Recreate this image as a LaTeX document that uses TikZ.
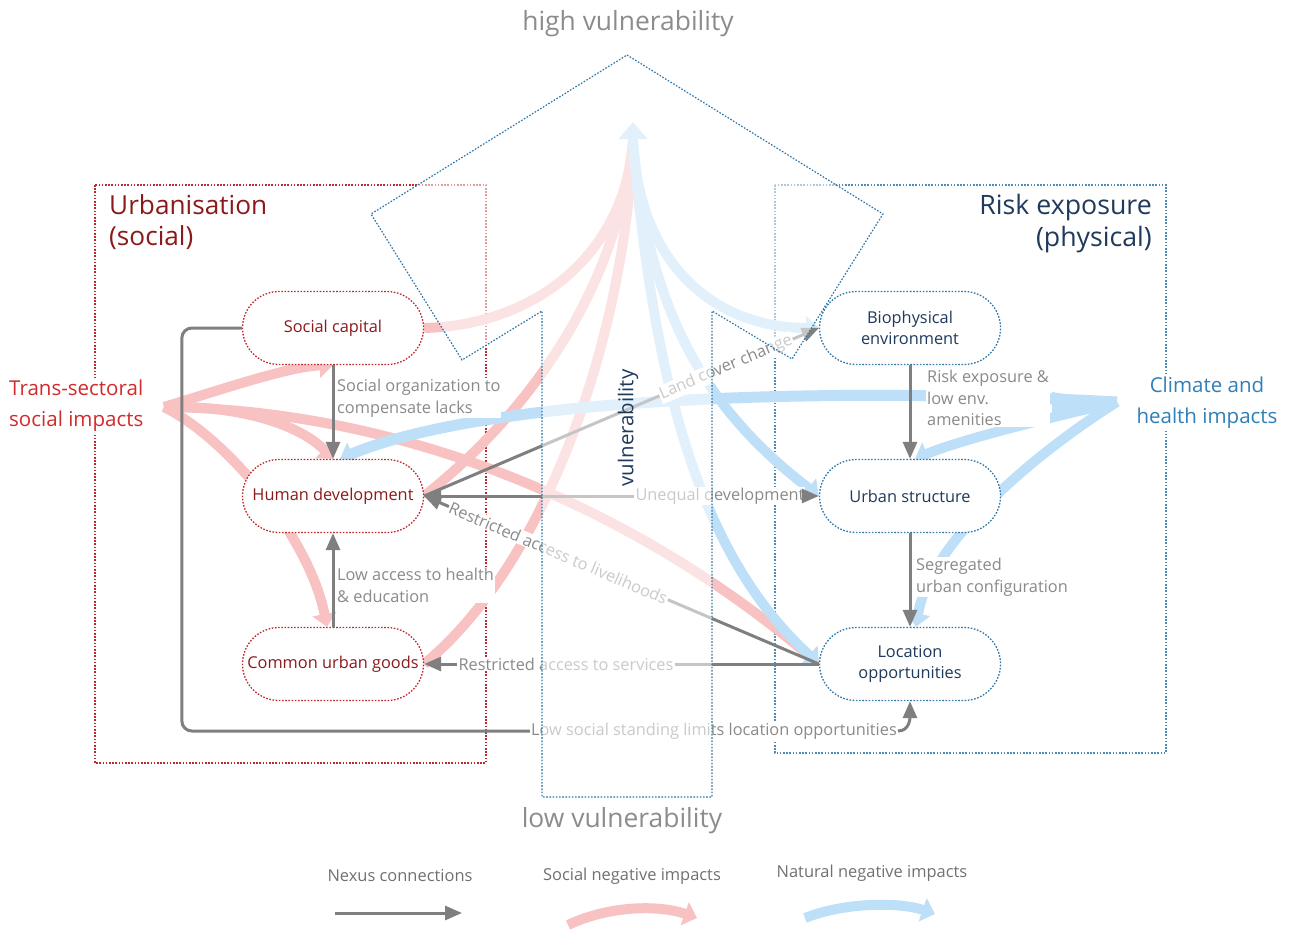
\documentclass[tikz,border=0pt]{standalone}
\usepackage{fontspec}
\setmainfont{Open Sans}
\usetikzlibrary{arrows.meta,shapes.misc,calc}
\pgfdeclarelayer{bg}
\pgfdeclarelayer{strands}
\pgfdeclarelayer{top}
\pgfsetlayers{bg,strands,main,top}

\definecolor{nexus}{HTML}{7F7F7F}
\definecolor{labgray}{HTML}{8A8A8A}
\definecolor{pinkS}{HTML}{F8C2C2}
\definecolor{blueN}{HTML}{BDDFF8}
\definecolor{redbox}{HTML}{C0282D}
\definecolor{redtxt}{HTML}{8B1A1A}
\definecolor{bluebox}{HTML}{2E77A8}
\definecolor{navytxt}{HTML}{1F3A5C}
\definecolor{transred}{HTML}{D22B2B}
\definecolor{climblue}{HTML}{2F80B8}
\definecolor{vgray}{HTML}{8C8C8C}
\definecolor{leggray}{HTML}{707070}

\tikzset{
 dotline/.style={line width=1.3bp, dash pattern=on 1.6bp off 1.6bp},
 rnode/.style={rounded rectangle, draw=redbox, dotline, fill=white, minimum width=181bp, minimum height=73bp, text=redtxt, font=\fontsize{16.4}{21.5}\selectfont, align=center, inner sep=0pt},
 bnode/.style={rnode, draw=bluebox, text=navytxt},
 nex/.style={draw=nexus, line width=3bp},
 nexarr/.style={nex, -{Triangle[length=17bp,width=14bp]}},
 lab/.style={text=labgray, font=\fontsize{16.4}{21.5}\selectfont, fill=white, inner sep=1bp, align=left},
 pinkline/.style={draw=pinkS, line width=10bp},
 blueline/.style={draw=blueN, line width=10bp},
 pinkarr/.style={pinkline, -{Triangle[length=13bp,width=24bp]}},
 bluearr/.style={blueline, -{Triangle[length=13bp,width=24bp]}},
 legtxt/.style={text=leggray, font=\fontsize{16.5}{19}\selectfont},
}

\begin{document}
\begin{tikzpicture}[x=1bp,y=-1bp]
\useasboundingbox (0,0) rectangle (1289,930);

% ---------- background boxes ----------
\begin{pgfonlayer}{bg}
\draw[redbox, dotline, line width=1.2bp] (95,185) rectangle (486,763);
\draw[bluebox!85, dotline, line width=1.2bp] (775,185) rectangle (1166,753);
\end{pgfonlayer}

% ---------- titles ----------
\node[anchor=north west, text=redtxt, font=\fontsize{26.3}{32}\selectfont, align=left, inner sep=0pt] (urb) at (109,194) {Urbanisation\\(social)};
\node[anchor=north east, text=navytxt, font=\fontsize{26.8}{32}\selectfont, align=right, inner sep=0pt] (risk) at (1152,194) {Risk exposure\\(physical)};

% ---------- nodes ----------
\node[rnode] (SC) at (333,328) {Social capital};
\node[rnode] (HD) at (333,496) {Human development};
\node[rnode] (CUG) at (333,664) {Common urban goods};
\node[bnode] (BE) at (910,328) {Biophysical\\environment};
\node[bnode] (US) at (910,496) {Urban structure};
\node[bnode] (LO) at (910,664) {Location\\opportunities};

\node[anchor=west, text=transred, font=\fontsize{20.6}{31}\selectfont, align=left, fill=white, inner sep=2bp] (TS) at (7,406) {Trans-sectoral\\social impacts};
\node[text=climblue, font=\fontsize{20.6}{31}\selectfont, align=center, fill=white, inner sep=2bp] (CH) at (1207,403) {Climate and\\health impacts};

\coordinate (S) at (164,407);
\coordinate (T) at (633,142);
\coordinate (C) at (1117,402);

% ---------- impact strands ----------
\begin{pgfonlayer}{strands}
% social negative impacts
\draw[pinkarr] (S) .. controls (220,390) and (290,366) .. (SC.south);
\draw[pinkarr] (S) .. controls (240,405) and (300,425) .. (HD.north);
\draw[pinkarr] (S) .. controls (230,440) and (310,540) .. ($(CUG.north)+(-6,0)$);
\draw[pinkarr] (S) .. controls (420,410) and (650,520) .. (LO.west);
\draw[pinkline] (SC.east) .. controls (540,325) and (625,250) .. (T);
\draw[pinkline] (HD.east) .. controls (520,420) and (615,300) .. (T);
\draw[pinkline] (CUG.east) .. controls (550,560) and (625,330) .. (T);
% natural negative impacts
\draw[bluearr] (T) .. controls (640,270) and (720,328) .. (BE.west);
\draw[bluearr] (T) .. controls (650,330) and (720,420) .. (US.west);
\draw[bluearr] (T) .. controls (655,400) and (705,560) .. (LO.west);
\draw[blueline, -{Triangle[length=17bp,width=28bp]}] (T) -- ++(0,-20);
\fill[blueN] (C) -- (1052,392) -- (1052,414) -- cycle;
\draw[bluearr, line width=11bp] (C) .. controls (800,385) and (480,400) .. ($(HD.north)+(7,0)$);
\draw[bluearr] (C) .. controls (1040,420) and (960,440) .. ($(US.north)+(5,0)$);
\draw[bluearr] (C) .. controls (1040,450) and (930,540) .. ($(LO.north)+(6,0)$);
\end{pgfonlayer}

% ---------- nexus connections ----------
\draw[nexarr] (SC.south) -- (HD.north);
\draw[nexarr] (CUG.north) -- (HD.south);
\draw[nexarr] (BE.south) -- (US.north);
\draw[nexarr] (US.south) -- (LO.north);

\node[lab, anchor=north west] (l1) at (336,378) {Social organization to\\compensate lacks};
\node[lab, anchor=north west] (l2) at (336,567) {Low access to health\\\& education};
\node[lab, anchor=north west] (l3) at (926,369) {Risk exposure \&\\low env.\\amenities};
\node[lab, anchor=north west] (l4) at (915,557) {Segregated\\urban configuration};

\node[lab] (ud) at (720,496) {Unequal development};
\draw[nex, {Triangle[length=17bp,width=14bp]}-] (HD.east) -- (ud.west);
\draw[nexarr] (ud.east) -- (US.west);

\node[lab] (rs) at (566,664) {Restricted access to services};
\draw[nex] (LO.west) -- (rs.east);
\draw[nexarr] (rs.west) -- (CUG.east);

\path (HD.east) -- node[lab, sloped, pos=0.34] (rl) {Restricted access to livelihoods} (LO.west);
\draw[nex] (LO.west) -- (rl.east);
\draw[nexarr] (rl.west) -- (HD.east);

\path (HD.east) -- node[lab, sloped, pos=0.765] (lc) {Land cover change} (BE.west);
\draw[nex] (HD.east) -- (lc.west);
\draw[nexarr] (lc.east) -- (BE.west);

\node[lab] (ls) at (714,731) {Low social standing limits location opportunities};
\draw[nex, rounded corners=10bp] (SC.west) -- ++(-60,0) |- (ls.west);
\draw[nexarr] (ls.east) .. controls +(12,0) and +(0,16) .. (LO.south);

% ---------- vulnerability arrow ----------
\begin{pgfonlayer}{top}
\draw[bluebox, dotline, line width=1.2bp, fill=white, fill opacity=0.55] (627,55) -- (883,214) -- (792,359) -- (712,311) -- (712,797) -- (542,797) -- (542,311) -- (462,360) -- (371,214) -- cycle;
\node[rotate=90, text=navytxt, font=\fontsize{20.5}{24}\selectfont] (vul) at (628,428) {vulnerability};
\end{pgfonlayer}
\node[text=vgray, font=\fontsize{26.5}{30}\selectfont] (hv) at (628,24) {high vulnerability};
\node[text=vgray, font=\fontsize{26.5}{30}\selectfont] (lv) at (622,821) {low vulnerability};

% ---------- legend ----------
\node[legtxt] (lg1) at (400,876) {Nexus connections};
\node[legtxt] (lg2) at (632,876) {Social negative impacts};
\node[legtxt] (lg3) at (872,873) {Natural negative impacts};
\coordinate (na) at (335,913); \coordinate (nb) at (462,913);
\coordinate (pa) at (568,925); \coordinate (pb) at (697,918);
\coordinate (ba) at (805,918); \coordinate (bb) at (935,914);
\draw[nexarr] (na) -- (nb);
\draw[pinkarr] (pa) .. controls (610,905) and (660,905) .. (pb);
\draw[bluearr] (ba) .. controls (845,902) and (900,902) .. (bb);
\end{tikzpicture}
\end{document}
